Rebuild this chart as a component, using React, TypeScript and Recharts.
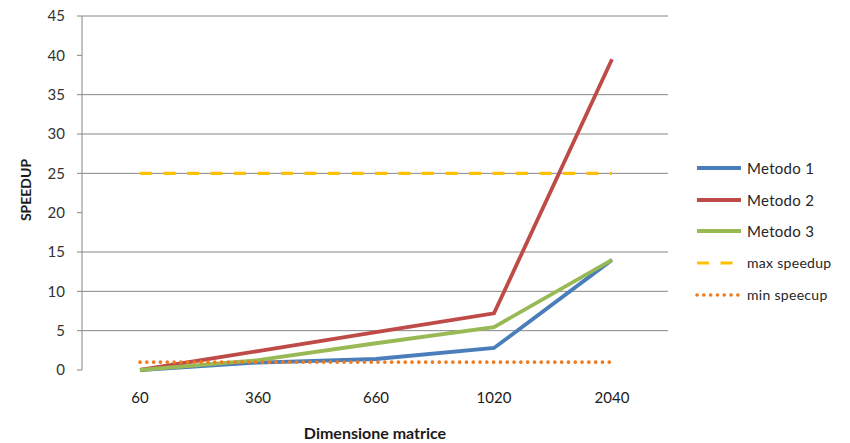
import React from "react";
import { LineChart, Line, XAxis, YAxis, CartesianGrid, Label } from "recharts";

const categories = ["60", "360", "660", "1020", "2040"];
const metodo1 = [0, 0.95, 1.4, 2.8, 14];
const metodo2 = [0, 2.4, 4.8, 7.2, 39.5];
const metodo3 = [0, 1.25, 3.4, 5.45, 14];
const maxSpeedup = [25, 25, 25, 25, 25];
const minSpeedup = [1, 1, 1, 1, 1];
const yTicks = [0, 5, 10, 15, 20, 25, 30, 35, 40, 45];
const gridValues = [5, 10, 15, 25, 30, 35, 45];

const series = [
  { key: "m1", name: "Metodo 1", color: "#4A7EBB", width: 3.8, dash: undefined as string | undefined, cap: "butt", size: 15 },
  { key: "m2", name: "Metodo 2", color: "#BE4B48", width: 3.8, dash: undefined, cap: "butt", size: 15 },
  { key: "m3", name: "Metodo 3", color: "#98B954", width: 3.8, dash: undefined, cap: "butt", size: 15 },
  { key: "max", name: "max speedup", color: "#FFC000", width: 3.2, dash: "12 11.5", cap: "butt", size: 14 },
  { key: "min", name: "min speecup", color: "#F07A1E", width: 3.6, dash: "0.1 6.7", cap: "round", size: 14 },
];

const data = categories.map((c, i) => ({
  cat: c,
  m1: metodo1[i],
  m2: metodo2[i],
  m3: metodo3[i],
  max: maxSpeedup[i],
  min: minSpeedup[i],
}));

const font = "Lato, 'Open Sans', sans-serif";

const ChartLegend = () => (
  <div style={{ position: "absolute", left: 695, top: 152, width: 155, fontFamily: font, color: "#262626" }}>
    {series.map((s) => (
      <div key={s.key} style={{ height: 31.7, display: "flex", alignItems: "center" }}>
        <svg width={50} height={10} style={{ display: "block" }}>
          <line
            x1={2}
            y1={5}
            x2={46}
            y2={5}
            stroke={s.color}
            strokeWidth={s.width}
            strokeDasharray={s.dash}
            strokeLinecap={s.cap as any}
          />
        </svg>
        <span style={{ fontSize: s.size, marginLeft: 2, letterSpacing: 0.3 }}>{s.name}</span>
      </div>
    ))}
  </div>
);

export default function App() {
  return (
    <div style={{ position: "absolute", left: 0, top: 0, width: 850, height: 443, background: "#fff" }}>
      <LineChart width={850} height={443} data={data} margin={{ top: 16, right: 182, bottom: 0, left: 0 }}>
        <CartesianGrid vertical={false} stroke="#868686" strokeWidth={1} horizontalValues={gridValues} />
        <XAxis
          dataKey="cat"
          scale="point"
          padding={{ left: 58, right: 56 }}
          axisLine={false}
          tickLine={false}
          tickMargin={16}
          height={73}
          tick={{ fill: "#1a1a1a", fontSize: 15, fontFamily: font }}
        >
          <Label
            content={() => (
              <text x={375} y={439} textAnchor="middle" fontFamily={font} fontWeight="bold" fontSize={16} fill="#1a1a1a">
                Dimensione matrice
              </text>
            )}
          />
        </XAxis>
        <YAxis
          domain={[0, 45]}
          ticks={yTicks}
          interval={0}
          width={82}
          axisLine={{ stroke: "#868686" }}
          tickLine={{ stroke: "#868686" }}
          tickSize={5}
          tickMargin={12}
          tick={{ fill: "#333", fontSize: 15, fontFamily: font }}
        >
          <Label
            content={() => (
              <text
                x={31}
                y={190}
                textAnchor="middle"
                transform="rotate(-90, 31, 190)"
                fontFamily={font}
                fontWeight="bold"
                fontSize={14}
                fill="#1a1a1a"
              >
                SPEEDUP
              </text>
            )}
          />
        </YAxis>
        {series.map((s) => (
          <Line
            key={s.key}
            type="linear"
            dataKey={s.key}
            name={s.name}
            stroke={s.color}
            strokeWidth={s.width}
            strokeDasharray={s.dash}
            strokeLinecap={s.cap as any}
            dot={false}
            activeDot={false}
            isAnimationActive={false}
          />
        ))}
      </LineChart>
      <ChartLegend />
    </div>
  );
}
